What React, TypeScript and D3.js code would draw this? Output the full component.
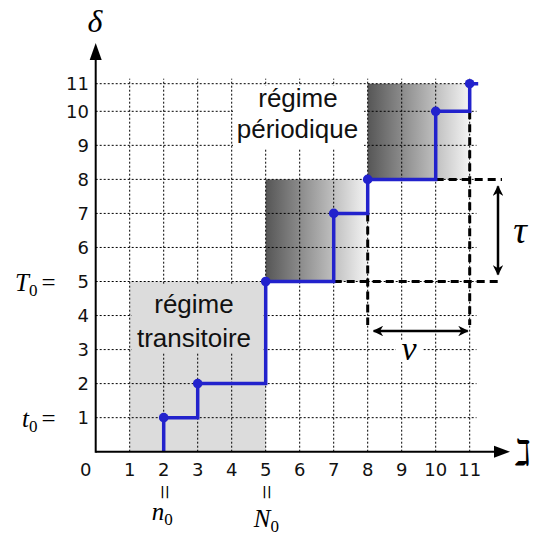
import React from "react";
import * as d3 from "d3";

const xTicks = [0, 1, 2, 3, 4, 5, 6, 7, 8, 9, 10, 11];
const yTicks = [1, 2, 3, 4, 5, 6, 7, 8, 9, 10, 11];
const stepPoints: [number, number][] = [
  [2, 1], [3, 2], [5, 5], [7, 7], [8, 8], [10, 10], [11, 11],
];
const transient = { x0: 1, x1: 5, y0: 0, y1: 5 };
const periodicBoxes = [
  { x0: 5, x1: 8, y0: 5, y1: 8 },
  { x0: 8, x1: 11, y0: 8, y1: 11 },
];
const t0 = 1, T0 = 5, n0 = 2, N0 = 5;
const periodStart = 8, periodEnd = 11, lambda = 3;

const W = 534, H = 538;
const x = d3.scaleLinear().domain([0, 11]).range([95.7, 469.7]);
const y = d3.scaleLinear().domain([0, 10, 11]).range([451.7, 111.3, 83.7]);

const BLUE = "#2222cc";
const MATH = "'Liberation Serif', 'DejaVu Serif', serif";
const SANS = "'DejaVu Sans', sans-serif";
const ARIAL = "'Liberation Sans', Arial, sans-serif";

export default function App() {
  const stairs: [number, number][] = [[2, 0], ...stepPoints, [11.25, 11]];
  const path = d3.line<[number, number]>()
    .x(d => x(d[0])).y(d => y(d[1]))
    .curve(d3.curveStepAfter)(stairs) || "";

  const gridRight = 476.5;
  const dashRight = 502;
  const dashBottom = 325;

  return (
    <svg width={W} height={H} style={{ position: "absolute", left: 0, top: 0, background: "#fff" }}>
      <defs>
        <linearGradient id="grad" x1="0" x2="1" y1="0" y2="0">
          <stop offset="0" stopColor="#565656" />
          <stop offset="1" stopColor="#f4f4f4" />
        </linearGradient>
        <marker id="ah" viewBox="0 0 10 10" refX="9" refY="5" markerWidth="4.2" markerHeight="4.2" orient="auto-start-reverse">
          <path d="M0,0 L10,5 L0,10 L3,5 z" fill="#000" />
        </marker>
      </defs>

      <rect x={x(transient.x0)} y={y(transient.y1)} width={x(transient.x1) - x(transient.x0)}
        height={y(transient.y0) - y(transient.y1)} fill="#dcdcdc" />
      {periodicBoxes.map((b, i) => (
        <rect key={i} x={x(b.x0)} y={y(b.y1)} width={x(b.x1) - x(b.x0)} height={y(b.y0) - y(b.y1)} fill="url(#grad)" />
      ))}

      <g stroke="#000" strokeWidth={1} strokeDasharray="2,2">
        {xTicks.filter(v => v > 0).map(v => (
          <line key={"gx" + v} x1={x(v)} x2={x(v)} y1={y(0)} y2={y(11) - 5} />
        ))}
        {yTicks.map(v => (
          <line key={"gy" + v} x1={x(0)} x2={gridRight} y1={y(v)} y2={y(v)} />
        ))}
      </g>

      <rect x={233} y={86} width={131} height={63} fill="#fff" />
      <rect x={132} y={285} width={130} height={68} fill="#dcdcdc" />
      <g fontFamily={ARIAL} fontSize={26} textAnchor="middle" fill="#111">
        <text x={298} y={107}>régime</text>
        <text x={297.5} y={138}>périodique</text>
        <text x={194} y={313}>régime</text>
        <text x={194} y={347}>transitoire</text>
      </g>

      <g stroke="#000" strokeWidth={3} strokeDasharray="8,5" fill="none">
        <line x1={x(7)} x2={dashRight} y1={y(T0)} y2={y(T0)} />
        <line x1={x(10)} x2={dashRight} y1={y(8)} y2={y(8)} />
        <line x1={x(periodStart)} x2={x(periodStart)} y1={y(7)} y2={dashBottom} />
        <line x1={x(periodEnd)} x2={x(periodEnd)} y1={y(10)} y2={dashBottom} />
      </g>

      <path d={path} fill="none" stroke={BLUE} strokeWidth={3.5} />
      {stepPoints.map((p, i) => (
        <circle key={i} cx={x(p[0])} cy={y(p[1])} r={4.8} fill={BLUE} />
      ))}

      <g stroke="#000" strokeWidth={2}>
        <line x1={x(0)} x2={x(0)} y1={y(0) + 1} y2={50} />
        <line x1={x(0)} x2={500} y1={y(0)} y2={y(0)} />
      </g>
      <path d={`M${x(0)},43 L${x(0) + 6},60 L${x(0) - 6},60 Z`} fill="#000" />
      <path d={`M510,${y(0)} L494,${y(0) - 6} L494,${y(0) + 6} Z`} fill="#000" />

      <g fontFamily={SANS} fontSize={18} fill="#111">
        {xTicks.map(v => (
          <text key={"tx" + v} x={v === 0 ? x(0) - 10 : x(v)} y={476} textAnchor="middle">{v}</text>
        ))}
        {yTicks.map(v => (
          <text key={"ty" + v} x={89} y={y(v) + 6.5} textAnchor="end">{v}</text>
        ))}
      </g>

      <g fontFamily={MATH} fontStyle="italic" fill="#000">
        <text x={95} y={32} fontSize={32} textAnchor="middle">δ</text>
        <text x={523} y={465} fontSize={36} textAnchor="middle" fontStyle="normal" fontFamily="'DejaVu Sans'">ℷ</text>
        <text x={15} y={y(T0) + 9} fontSize={25}>T<tspan fontStyle="normal" fontSize={17} dy={5}>0</tspan><tspan dy={-5} dx={4} fontStyle="normal" fontSize={25}>=</tspan></text>
        <text x={22} y={y(t0) + 9} fontSize={25}>t<tspan fontStyle="normal" fontSize={17} dy={5}>0</tspan><tspan dy={-5} dx={4} fontStyle="normal" fontSize={25}>=</tspan></text>
        <text transform={`translate(${x(n0)},492) rotate(90)`} fontSize={26} fontStyle="normal" textAnchor="middle" dy={8}>=</text>
        <text x={x(n0) - 12} y={520} fontSize={25}>n<tspan fontStyle="normal" fontSize={17} dy={5}>0</tspan></text>
        <text transform={`translate(${x(N0)},492) rotate(90)`} fontSize={26} fontStyle="normal" textAnchor="middle" dy={8}>=</text>
        <text x={x(N0) - 12} y={527} fontSize={25}>N<tspan fontStyle="normal" fontSize={17} dy={5}>0</tspan></text>
      </g>

      <line x1={498} x2={498} y1={y(8) + 7} y2={y(T0) - 7} stroke="#000" strokeWidth={2.5}
        markerStart="url(#ah)" markerEnd="url(#ah)" />
      <text x={520} y={243} fontFamily={MATH} fontStyle="italic" fontSize={38} textAnchor="middle">τ</text>

      <line x1={x(periodStart) + 6} x2={x(periodStart + lambda) - 2} y1={331} y2={331} stroke="#000" strokeWidth={2.5}
        markerStart="url(#ah)" markerEnd="url(#ah)" />
      <rect x={396} y={340} width={26} height={22} fill="#fff" />
      <text x={409} y={360} fontFamily={MATH} fontStyle="italic" fontSize={34} textAnchor="middle">ν</text>
    </svg>
  );
}
